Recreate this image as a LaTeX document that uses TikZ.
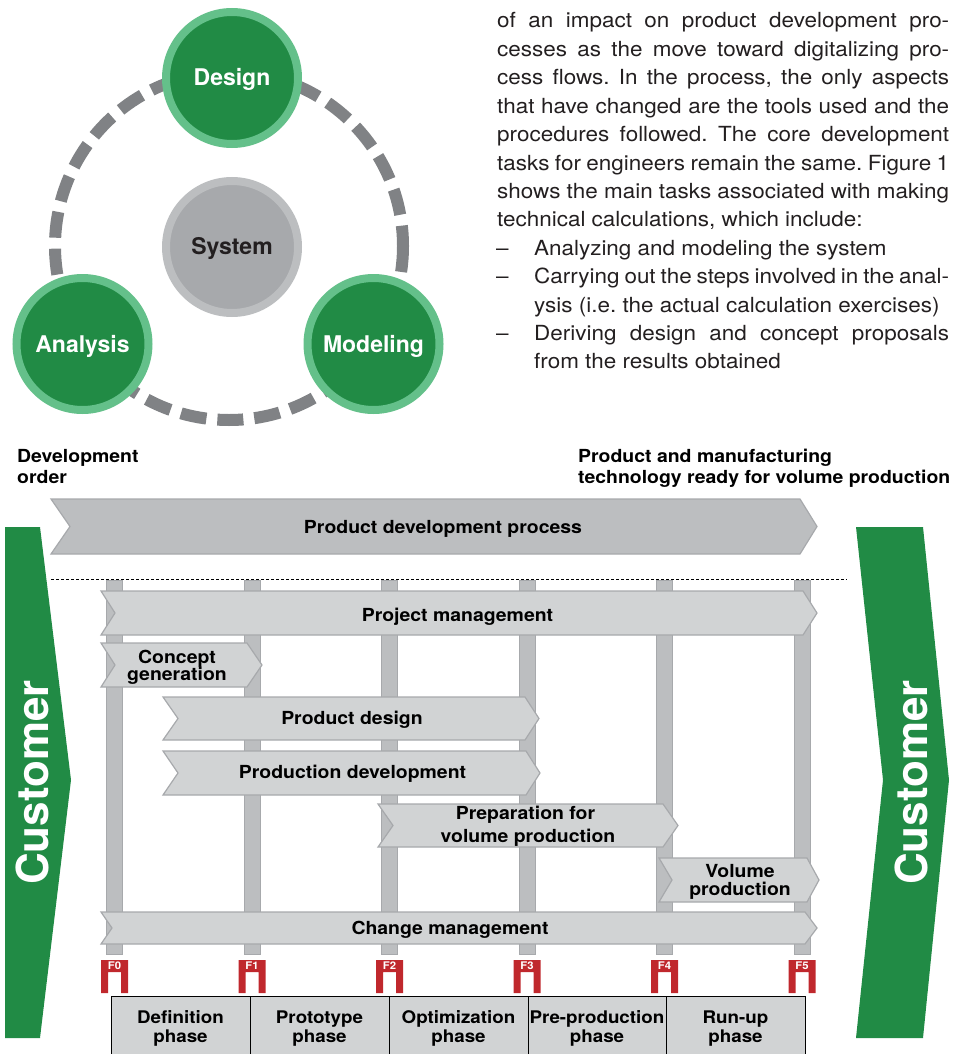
\documentclass[tikz,border=0pt]{standalone}
\usepackage{fontspec}
\setmainfont{TeX Gyre Heros}[FakeStretch=1.08]
\newfontfamily\hvplain{TeX Gyre Heros}
\definecolor{dgreen}{HTML}{218B45}
\definecolor{lgreen}{HTML}{64C08A}
\definecolor{sysfill}{HTML}{A7A9AC}
\definecolor{sysring}{HTML}{BCBEC0}
\definecolor{dashgray}{HTML}{808285}
\definecolor{midgray}{HTML}{BCBEC0}
\definecolor{edgegray}{HTML}{A7A9AC}
\definecolor{lightgray2}{HTML}{D1D3D4}
\definecolor{gatered}{HTML}{C0282D}
\definecolor{txt}{HTML}{231F20}
\frenchspacing
\tikzset{
  para/.style={font=\fontsize{20.8}{28}\selectfont, text=txt, inner sep=0pt, anchor=base west},
  lbl/.style={font=\bfseries\fontsize{18}{18}\selectfont, text=black, inner sep=0pt, anchor=base},
  phlbl/.style={font=\bfseries\fontsize{17.4}{18}\selectfont, text=black, inner sep=0pt, anchor=base},
  hdr/.style={font=\bfseries\fontsize{18}{18}\selectfont, text=black, inner sep=0pt, anchor=base west},
  gcircle/.style={circle, minimum size=132pt, inner sep=0pt, draw=lgreen, line width=8pt, fill=dgreen},
  scircle/.style={circle, minimum size=132pt, inner sep=0pt, draw=sysring, line width=8pt, fill=sysfill},
  ctext/.style={font=\hvplain\bfseries\fontsize{23}{23}\selectfont, text=white, inner sep=0pt, anchor=base},
  dashc/.style={draw=dashgray, line width=12pt, dash pattern=on 26pt off 11pt},
  bigchev/.style={fill=midgray, draw=edgegray, line width=1.2pt},
  chevst/.style={fill=lightgray2, draw=edgegray, line width=1.2pt},
  pillar/.style={fill=midgray, draw=edgegray, line width=0.8pt},
  gate/.style={fill=gatered},
  gatelbl/.style={font=\bfseries\fontsize{10.5}{10.5}\selectfont, text=white, inner sep=0pt},
  phasebox/.style={fill=lightgray2, draw=black, line width=1pt},
  cust/.style={fill=dgreen},
  custtxt/.style={font=\hvplain\bfseries\fontsize{44}{44}\selectfont, text=white, inner sep=0pt, anchor=base, rotate=90},
}
\newcommand\chev[7]{\draw[#7] (#1,#3) -- (#2-#6,#3) -- (#2,{(#3+#4)/2}) -- (#2-#6,#4) -- (#1,#4) -- (#1+#5,{(#3+#4)/2}) -- cycle;}
\begin{document}
\begin{tikzpicture}[x=1pt,y=-1pt]
\useasboundingbox (0,0) rectangle (956,1054);
% ---------- cycle diagram ----------
\draw[dashc] (229,246) circle[radius=174];
\node[gcircle] (design) at (232,78) {};
\node[scircle] (system) at (232,247) {};
\node[gcircle] (analysis) at (82.5,344) {};
\node[gcircle] (modeling) at (373.5,344) {};
\node[ctext] (designt) at (232,86) {Design};
\node[ctext, text=txt] (systemt) at (232,254) {System};
\node[ctext] (analysist) at (82.5,352) {Analysis};
\node[ctext] (modelingt) at (373.5,352) {Modeling};
% ---------- paragraph ----------
\node[para] (p0) at (497,28) {\makebox[452pt][s]{of an impact on product development pro-}};
\node[para] (p1) at (497,56.4) {\makebox[452pt][s]{cesses as the move toward digitalizing pro-}};
\node[para] (p2) at (497,84.8) {\makebox[452pt][s]{cess flows. In the process, the only aspects}};
\node[para] (p3) at (497,113.2) {\makebox[452pt][s]{that have changed are the tools used and the}};
\node[para] (p4) at (497,141.6) {\makebox[452pt][s]{procedures followed. The core development}};
\node[para] (p5) at (497,170) {\makebox[452pt][s]{tasks for engineers remain the same. Figure 1}};
\node[para] (p6) at (497,198.4) {\makebox[452pt][s]{shows the main tasks associated with making}};
\node[para] (p7) at (497,226.8) {technical calculations, which include:};
\node[para] (d1) at (496,255.2) {–};
\node[para] (p8) at (534,255.2) {Analyzing and modeling the system};
\node[para] (d2) at (496,283.6) {–};
\node[para] (p9) at (534,283.6) {\makebox[415pt][s]{Carrying out the steps involved in the anal-}};
\node[para] (p10) at (534,312) {ysis (i.e. the actual calculation exercises)};
\node[para] (d3) at (496,340.4) {–};
\node[para] (p11) at (534,340.4) {\makebox[415pt][s]{Deriving design and concept proposals}};
\node[para] (p12) at (534,368.8) {from the results obtained};
% ---------- header labels ----------
\node[hdr] (do1) at (17,462) {Development};
\node[hdr] (do2) at (17,483) {order};
\node[hdr] (pm1) at (578,462) {Product and manufacturing};
\node[hdr] (pm2) at (578,483) {technology ready for volume production};
% ---------- customer arrows ----------
\fill[cust] (5,527) -- (40,527) -- (71,780) -- (40,1038) -- (5,1038) -- cycle;
\fill[cust] (856,527) -- (923,527) -- (949,780) -- (923,1038) -- (856,1038) -- (883,780) -- cycle;
\node[custtxt] (custl) at (48,782.5) {Customer};
\node[custtxt] (custr) at (927,782.5) {Customer};
% ---------- product development process ----------
\chev{51}{817}{499}{554}{19}{17}{bigchev}
\node[lbl] (pdp) at (443,533) {Product development process};
\draw[dashed, line width=0.6pt, dash pattern=on 3pt off 2pt] (51,579) -- (847,579);
% ---------- pillars ----------
\foreach \i in {0,...,5} {
  \pgfmathsetmacro\cx{114.5+137.5*\i}
  \draw[pillar] (\cx-8,580) rectangle (\cx+8,954);
}
% ---------- task arrows ----------
\chev{101}{817}{591}{635}{14}{14}{chevst}
\node[lbl] (projm) at (457.5,621) {Project management};
\chev{101}{262}{643}{687}{14}{15}{chevst}
\node[lbl] (cg1) at (177,663) {Concept};
\node[lbl] (cg2) at (177,680) {generation};
\chev{163}{539}{697}{740}{15}{14}{chevst}
\node[lbl] (pdes) at (352,724) {Product design};
\chev{163}{540}{751}{795}{15}{14}{chevst}
\node[lbl] (pdev) at (352.5,778) {Production development};
\chev{378}{678}{804}{847}{15}{15}{chevst}
\node[lbl] (prep1) at (525.5,819) {Preparation for};
\node[lbl] (prep2) at (528,842) {volume production};
\chev{659}{819}{858}{902}{13}{12}{chevst}
\node[lbl] (vp1) at (740,877) {Volume};
\node[lbl] (vp2) at (740,895) {production};
\chev{101}{817}{912}{944}{11}{12}{chevst}
\node[lbl] (chm) at (450,934) {Change management};
% ---------- gates ----------
\foreach \i in {0,...,5} {
  \pgfmathsetmacro\cx{114.5+137.5*\i}
  \fill[gate] (\cx-13.5,993) -- (\cx-13.5,960) -- (\cx+13.5,960) -- (\cx+13.5,993) -- (\cx+6.5,993) -- (\cx+6.5,972) -- (\cx-6.5,972) -- (\cx-6.5,993) -- cycle;
  \node[gatelbl] (f\i) at (\cx,966) {F\i};
}
% ---------- phases ----------
\draw[phasebox] (111,996) rectangle (250,1060);
\draw[phasebox] (250,996) rectangle (389,1060);
\draw[phasebox] (389,996) rectangle (528,1060);
\draw[phasebox] (528,996) rectangle (666,1060);
\draw[phasebox] (666,996) rectangle (805,1060);
\node[phlbl] (ph1a) at (180.5,1023) {Definition};
\node[phlbl] (ph1b) at (180.5,1042) {phase};
\node[phlbl] (ph2a) at (319.5,1023) {Prototype};
\node[phlbl] (ph2b) at (319.5,1042) {phase};
\node[phlbl] (ph3a) at (458.5,1023) {Optimization};
\node[phlbl] (ph3b) at (458.5,1042) {phase};
\node[phlbl] (ph4a) at (597,1023) {Pre-production};
\node[phlbl] (ph4b) at (597,1042) {phase};
\node[phlbl] (ph5a) at (735.5,1023) {Run-up};
\node[phlbl] (ph5b) at (735.5,1042) {phase};
\end{tikzpicture}
\end{document}
